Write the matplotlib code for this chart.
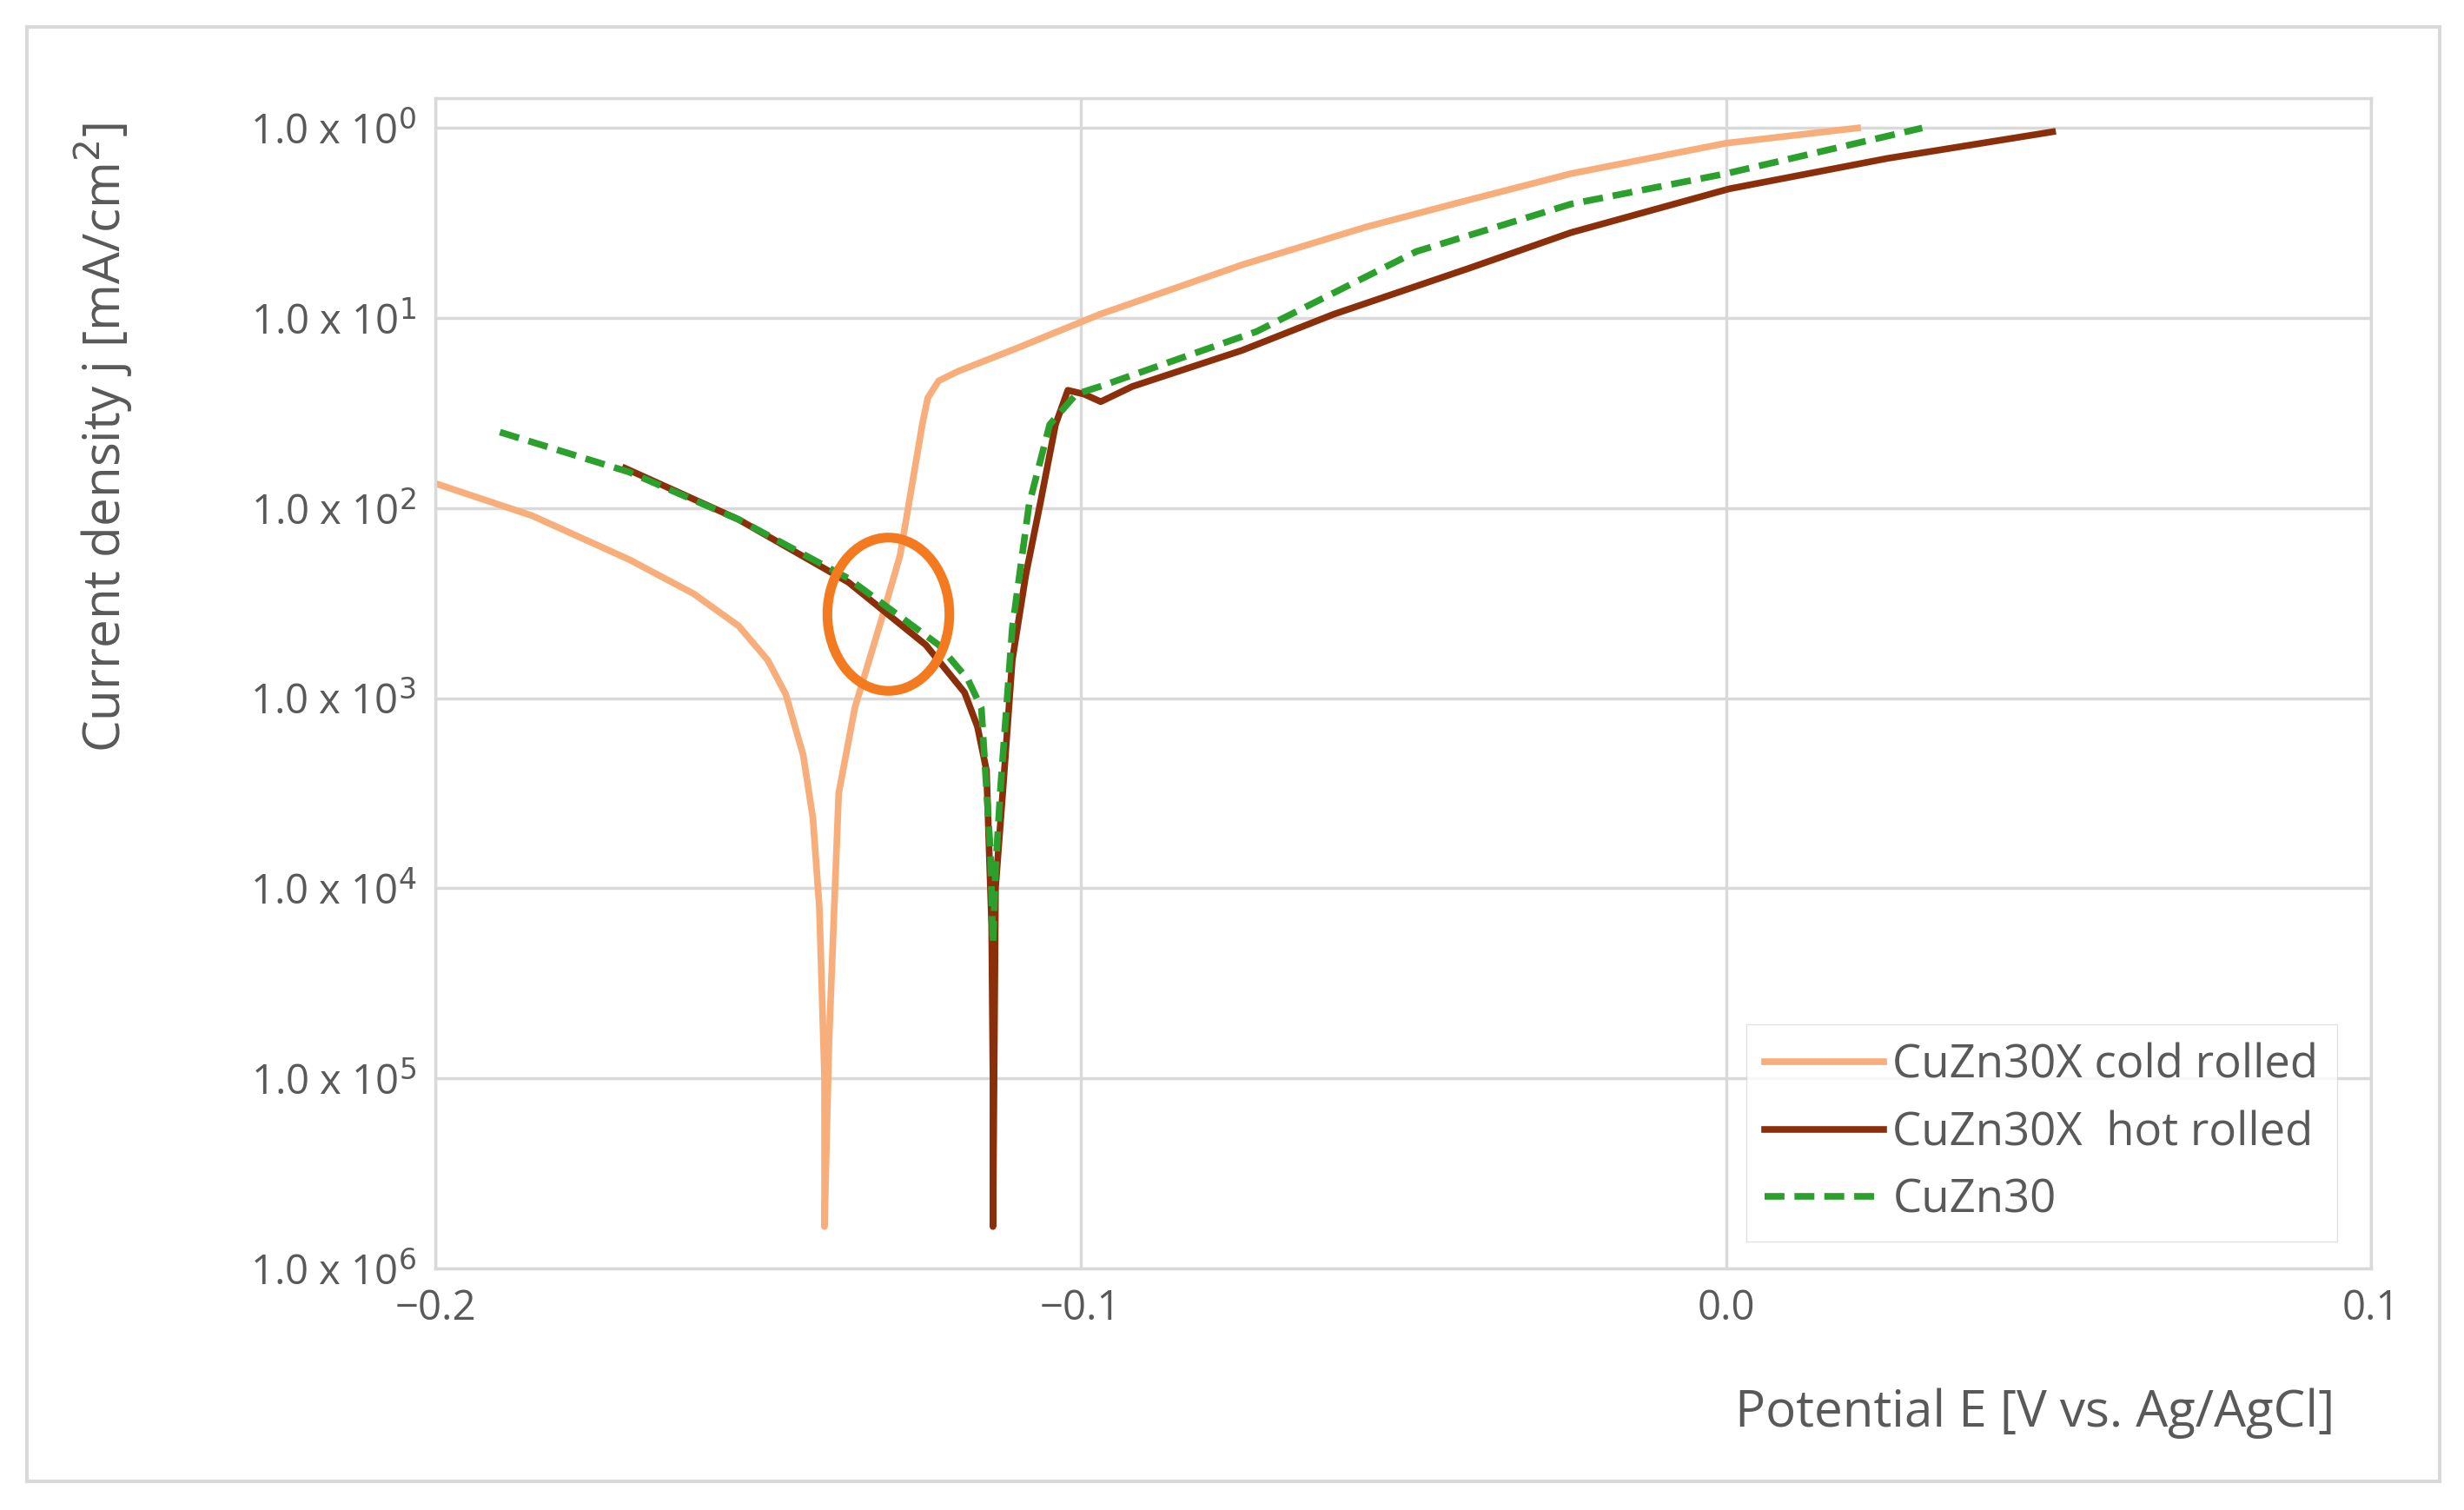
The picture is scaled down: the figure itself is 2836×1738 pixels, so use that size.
import numpy as np
import matplotlib
matplotlib.use('Agg')
import matplotlib.pyplot as plt
from matplotlib.patches import Ellipse, Rectangle

plt.rcParams['font.family'] = ['Open Sans', 'DejaVu Sans']

# cold rolled
cold_E = [-0.2, -0.185, -0.170, -0.160, -0.153, -0.1485, -0.1457, -0.143, -0.1415, -0.1405, -0.1397, -0.1397,
          -0.1390, -0.1375, -0.135, -0.131, -0.128, -0.126, -0.1245, -0.1237, -0.122, -0.119, -0.110, -0.097,
          -0.075, -0.0557, -0.040, -0.024, 0.000, 0.0204]
cold_logj = [-1.87, -2.04, -2.27, -2.45, -2.62, -2.80, -2.98, -3.30, -3.63, -4.1, -5.0, -5.78,
             -4.8, -3.5, -3.05, -2.60, -2.25, -1.85, -1.55, -1.42, -1.33, -1.28, -1.16, -0.98,
             -0.72, -0.52, -0.38, -0.24, -0.08, 0.0]
# hot rolled
hot_E = [-0.1706, -0.153, -0.136, -0.124, -0.118, -0.116, -0.1146, -0.1138, -0.1136, -0.1136,
         -0.1132, -0.112, -0.1106, -0.1085, -0.1063, -0.1039, -0.102, -0.0995, -0.0969,
         -0.092, -0.075, -0.0608, -0.040, -0.024, 0.0005, 0.025, 0.0506]
hot_logj = [-1.79, -2.06, -2.39, -2.72, -2.97, -3.15, -3.38, -4.2, -5.0, -5.78,
            -4.0, -3.46, -2.80, -2.35, -1.98, -1.56, -1.38, -1.40, -1.44,
            -1.36, -1.17, -0.98, -0.74, -0.55, -0.32, -0.16, -0.02]
# CuZn30
ref_E = [-0.190, -0.170, -0.153, -0.136, -0.122, -0.1175, -0.1154, -0.1140, -0.1136, -0.1132,
         -0.1124, -0.1106, -0.1080, -0.1048, -0.1007, -0.097, -0.0727, -0.048, -0.024,
         0.000, 0.0304]
ref_logj = [-1.60, -1.81, -2.06, -2.37, -2.72, -2.90, -3.05, -3.8, -4.29, -3.9,
            -3.46, -2.63, -1.98, -1.56, -1.40, -1.36, -1.07, -0.65, -0.40,
            -0.24, 0.0]

labels = ['CuZn30X cold rolled', 'CuZn30X  hot rolled', 'CuZn30']
colors = ['#F8AE7A', '#8B2F0A', '#2CA02C']
ytick_labels = [r'1.0 x 10$^{%d}$' % k for k in range(7)]

fig = plt.figure(figsize=(28.36, 17.38), dpi=100)
fig.patches.append(Rectangle((0.011, 0.019), 0.979, 0.963, transform=fig.transFigure,
                             fill=False, edgecolor='#D9D9D9', linewidth=3))
ax = fig.add_axes([0.1767, 0.160, 0.7857, 0.775])

ax.plot(cold_E, 10 ** np.array(cold_logj), color=colors[0], lw=5.5, label=labels[0])
ax.plot(hot_E, 10 ** np.array(hot_logj), color=colors[1], lw=5.5, label=labels[1])
ax.plot(ref_E, 10 ** np.array(ref_logj), color=colors[2], lw=5.5, ls=(0, (3, 1.5)), label=labels[2])

ax.set_yscale('log')
ax.set_xlim(-0.2, 0.1)
ax.set_ylim(1e-6, 10 ** 0.157)
ax.set_yticks([10.0 ** -k for k in range(7)])
ax.set_yticklabels(ytick_labels)
ax.yaxis.set_minor_locator(matplotlib.ticker.NullLocator())
ax.set_xticks([-0.2, -0.1, 0.0, 0.1])
ax.set_xticklabels(['\u22120.2', '\u22120.1', '0.0', '0.1'])
ax.tick_params(labelsize=34, colors='#595959', length=0, pad=16)
ax.grid(True, color='#D9D9D9', lw=2.5)
for s in ax.spines.values():
    s.set_color('#D9D9D9')
    s.set_linewidth(2.5)

ax.add_patch(Ellipse((0.234, 0.559), 0.063, 0.131, transform=ax.transAxes,
                     fill=False, edgecolor='#F47A20', lw=8, zorder=5))

fig.text(0.826, 0.055, 'Potential E [V vs. Ag/AgCl]', fontsize=42, color='#595959', ha='center')
fig.text(0.042, 0.71, 'Current density j [mA/cm$^2$]', fontsize=42, color='#595959',
         rotation=90, ha='center', va='center')

leg = ax.legend(loc='lower right', fontsize=38, frameon=True, fancybox=False,
                edgecolor='#D9D9D9', borderpad=0.4, labelspacing=0.45, handlelength=2.6,
                handletextpad=0.2, bbox_to_anchor=(0.994, 0.003))
for t in leg.get_texts():
    t.set_color('#595959')

fig.savefig('out.png', dpi=100)
